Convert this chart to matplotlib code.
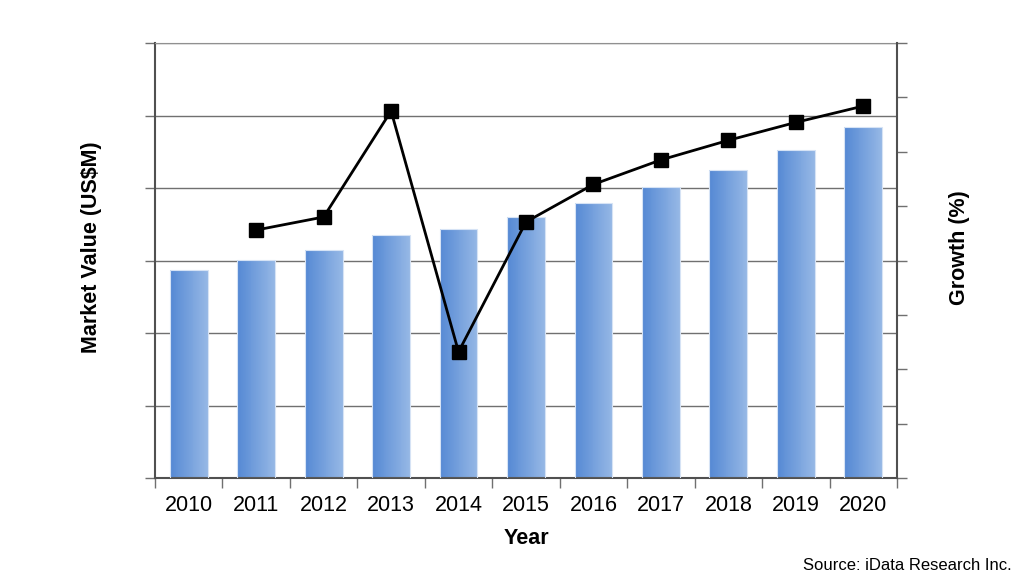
import numpy as np
import matplotlib
matplotlib.use("Agg")
from matplotlib import pyplot as plt
from matplotlib.colors import LinearSegmentedColormap

plt.rcParams['font.family'] = ['Liberation Sans', 'DejaVu Sans']

years = ['2010', '2011', '2012', '2013', '2014', '2015',
         '2016', '2017', '2018', '2019', '2020']
market = [2.87, 3.01, 3.14, 3.35, 3.43, 3.60, 3.79, 4.01, 4.25, 4.52, 4.84]
growth_years = ['2011', '2012', '2013', '2014', '2015',
                '2016', '2017', '2018', '2019', '2020']
growth = [4.56, 4.80, 6.75, 2.32, 4.71, 5.40, 5.85, 6.21, 6.54, 6.84]

pixelw, pixelh, dpi = 1024, 580, 100
fig = plt.figure(figsize=(pixelw/dpi, pixelh/dpi), dpi=dpi)
ax = fig.add_axes([155/pixelw, 1 - 478/pixelh, (897-155)/pixelw, (478-43)/pixelh])

x = np.arange(len(years))
barw = 0.56

# left-to-right gradient: each bar built from thin vertical slices
cmap = LinearSegmentedColormap.from_list('bar', ['#5589d4', '#95b7e5'])
nslice = 40
for i in range(nslice):
    off = -barw/2 + i*barw/nslice
    ax.bar(x + off, market, width=barw/nslice*1.05, align='edge',
           color=cmap(i/(nslice-1)), linewidth=0, antialiased=False, zorder=2)
# thin light outline
ax.bar(x, market, width=barw, facecolor='none', edgecolor='#d6e3f5',
       linewidth=0.8, zorder=3)

ax.set_xlim(-0.5, len(years) - 0.5)
ax.set_ylim(0, 6)
ax.set_yticks(np.arange(0, 7, 1))
ax.set_yticklabels([])
ax.yaxis.grid(True, color='#707070', linewidth=1)
ax.set_axisbelow(True)

ax.set_xticks(x)
ax.set_xticklabels(years, fontsize=15.5)
ax.set_xticks(np.arange(-0.5, len(years), 1), minor=True)
ax.tick_params(axis='x', which='major', length=0, pad=12)
ax.tick_params(axis='x', which='minor', length=7, color='#707070', width=1)
ax.tick_params(axis='y', length=7, color='#707070', width=1)

for s in ['left', 'bottom']:
    ax.spines[s].set_color('#505050')
    ax.spines[s].set_linewidth(1.5)
ax.spines['top'].set_color('#909090')
ax.spines['right'].set_visible(False)

ax.set_xlabel('Year', fontsize=15.5, fontweight='bold', labelpad=9)
ax.set_ylabel('Market Value (US$M)', fontsize=15.5, fontweight='bold')
ax.yaxis.set_label_coords(-0.071, 0.53)

ax2 = ax.twinx()
ax2.set_ylim(0, 8)
ax2.set_yticks(np.arange(0, 9, 1))
ax2.set_yticklabels([])
ax2.tick_params(axis='y', length=7, color='#707070', width=1)
for s in ['left', 'bottom', 'top']:
    ax2.spines[s].set_visible(False)
ax2.spines['right'].set_color('#505050')
ax2.spines['right'].set_linewidth(1.5)
gx = [years.index(g) for g in growth_years]
ax2.plot(gx, growth, '-s', color='black', linewidth=2, markersize=10, zorder=4)
ax2.set_ylabel('Growth (%)', fontsize=15.5, fontweight='bold')
ax2.yaxis.set_label_coords(1.070, 0.53)

fig.text(1012/pixelw, 1 - 566/pixelh, 'Source: iData Research Inc.',
         fontsize=12, ha='right', va='center')

fig.savefig('out.png', dpi=dpi)
